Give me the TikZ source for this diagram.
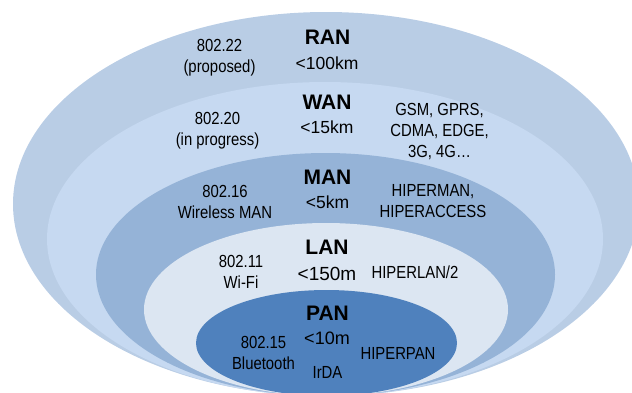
\documentclass[tikz,border=0pt]{standalone}
\usepackage{fontspec}
\setmainfont{Liberation Sans}
\newfontfamily\narrowfont{Liberation Sans}[FakeStretch=0.85]
\definecolor{ranc}{HTML}{B9CDE5}
\definecolor{wanc}{HTML}{C6D9F1}
\definecolor{manc}{HTML}{95B3D7}
\definecolor{lanc}{HTML}{DCE6F2}
\definecolor{panc}{HTML}{4F81BD}
\begin{document}
\begin{tikzpicture}[x=1pt,y=-1pt,
  lbl/.style={font=\narrowfont\fontsize{17.5}{21}\selectfont, align=center, inner sep=0pt, text=black},
  rng/.style={font=\fontsize{17.5}{21}\selectfont, inner sep=0pt, text=black},
  net/.style={font=\fontsize{21}{25}\selectfont\bfseries, inner sep=0pt, text=black},
  zone/.style={draw=white, line width=0.4pt}]
\useasboundingbox (0,0) rectangle (632,392);
\begin{scope}
\clip (0,0) rectangle (632,392);
\fill[ranc] (326,204) ellipse [x radius=313, y radius=192];
\fill[wanc] (325,239) ellipse [x radius=278, y radius=157];
\fill[manc] (325.5,274.5) ellipse [x radius=229.5, y radius=121.5];
\fill[lanc] (326,309.5) ellipse [x radius=182, y radius=86.5];
\fill[panc] (326.5,343) ellipse [x radius=130.5, y radius=53];
\end{scope}
% RAN
\node[lbl] (r1) at (219.5,58) {802.22\\(proposed)};
\node[net] (r2) at (327.5,37) {RAN};
\node[rng] (r3) at (327,63) {<100km};
% WAN
\node[lbl] (w1) at (217.5,131) {802.20\\(in progress)};
\node[net] (w2) at (327,102.5) {WAN};
\node[rng] (w3) at (327,127) {<15km};
\node[lbl] (w4) at (439.5,132) {GSM, GPRS,\\CDMA, EDGE,\\3G, 4G\ldots};
% MAN
\node[lbl] (m1) at (225,202) {802.16\\Wireless MAN};
\node[net] (m2) at (327.5,177.5) {MAN};
\node[rng] (m3) at (327.5,202.5) {<5km};
\node[lbl] (m4) at (433,201) {HIPERMAN,\\HIPERACCESS};
% LAN
\node[lbl] (l1) at (241,272) {802.11\\Wi-Fi};
\node[net] (l2) at (327,247.5) {LAN};
\node[rng,font=\fontsize{19}{22}\selectfont] (l3) at (327,274) {<150m};
\node[lbl] (l4) at (415,272.7) {HIPERLAN/2};
% PAN
\node[lbl] (p1) at (263.5,352.5) {802.15\\Bluetooth};
\node[net] (p2) at (327.5,313.3) {PAN};
\node[rng,font=\fontsize{18}{22}\selectfont] (p3) at (327,338) {<10m};
\node[lbl] (p4) at (327.5,372.5) {IrDA};
\node[lbl] (p5) at (398,353) {HIPERPAN};
\end{tikzpicture}
\end{document}
